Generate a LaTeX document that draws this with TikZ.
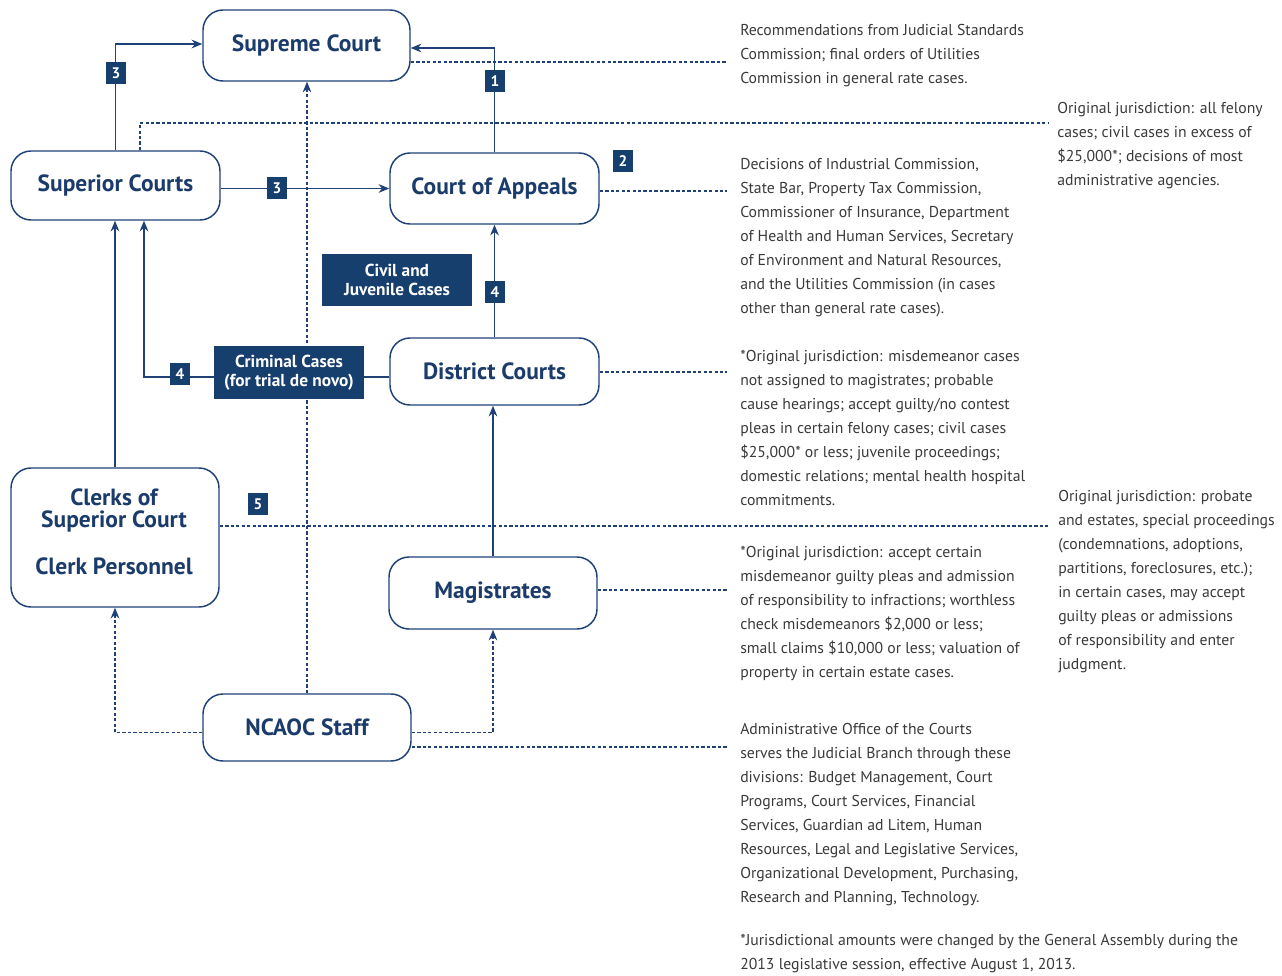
\documentclass[tikz,border=0pt]{standalone}
\usepackage{fontspec}
\setmainfont{PT Sans}
\usetikzlibrary{arrows.meta,calc}
\definecolor{navy}{HTML}{1F4178}
\definecolor{boxnavy}{HTML}{173F6D}
\definecolor{labnavy}{HTML}{1B3C6B}
\definecolor{bodygray}{HTML}{3A3A3A}
\begin{document}
\begin{tikzpicture}[x=0.75pt,y=-0.75pt,
  court/.style={draw=navy, line width=1.1pt, rounded corners=15pt, fill=white, text=labnavy,
    font=\fontsize{17.6}{18}\selectfont\bfseries, inner sep=0pt},
  clerktext/.style={text=labnavy, font=\fontsize{17.6}{16.5}\selectfont\bfseries, align=center, inner sep=0pt},
  darkbox/.style={fill=boxnavy, text=white, font=\fontsize{13}{14.25}\selectfont\bfseries, align=center, inner sep=0pt},
  badge/.style={fill=boxnavy, text=white, font=\fontsize{11.5}{12}\selectfont\bfseries,
    minimum width=15.5pt, minimum height=17pt, inner sep=0pt},
  link/.style={draw=navy, line width=1.1pt},
  arr/.style={link, -{Stealth[length=8pt,width=6.5pt]}},
  dline/.style={draw=navy, line width=0.9pt, dash pattern=on 2.5pt off 1.6pt},
  darr/.style={dline, -{Stealth[length=8pt,width=6.5pt]}},
  body/.style={text=bodygray, font=\fontsize{11.8}{18}\selectfont, align=left, anchor=base west, inner sep=0pt}
]
\useasboundingbox[fill=white] (0,0) rectangle (1282,975);

% court boxes
\node[court, minimum width=155.25pt, minimum height=53.25pt] (supreme) at (306.5,45.5) {Supreme Court};
\node[court, minimum width=156.75pt, minimum height=51.75pt] (superior) at (115.5,185.5) {Superior Courts};
\node[court, minimum width=156.75pt, minimum height=53.25pt] (coa) at (494.5,188.5) {Court of Appeals};
\node[court, minimum width=156.75pt, minimum height=50.25pt] (district) at (494.5,371.5) {District Courts};
\node[court, minimum width=156pt, minimum height=104.25pt] (clerks) at (115,537.5) {};
\node[clerktext] (clerkA) at (114,510) {Clerks of\\Superior Court};
\node[clerktext] (clerkB) at (114,566) {Clerk Personnel};
\node[court, minimum width=156pt, minimum height=54pt] (mag) at (493,593) {Magistrates};
\node[court, minimum width=156pt, minimum height=50.25pt] (ncaoc) at (307,727.5) {NCAOC Staff};

% free ends of the dashed leaders
\coordinate (t1) at (727,62);
\coordinate (t2) at (1048,123);
\coordinate (t3) at (727,191);
\coordinate (t4) at (727,372);
\coordinate (t5) at (1048,526);
\coordinate (t6) at (727,590);
\coordinate (t7) at (727,747);

% solid connectors
\draw[arr] (superior.north) |- ($(supreme.west)+(0,-1.5)$);
\draw[arr] (coa.north) |- ($(supreme.east)+(0,2.5)$);
\draw[arr] (superior.east |- coa.west) -- (coa.west);
\draw[arr] (district.north) -- (coa.south);
\draw[arr] ($(district.west)+(0,5.5)$) -| ($(superior.south)+(28.5,0)$);
\draw[arr] (clerks.north) -- (clerks.north |- superior.south);
\draw[arr] (mag.north) -- (mag.north |- district.south);
\draw[link] ($(clerks.north east)+(0,42)$) -- ($(clerks.north east)+(0,42)$ -| mag.north);

% dashed connectors
\draw[darr] (ncaoc.north) -- (ncaoc.north |- supreme.south);
\draw[darr] ($(ncaoc.west)+(0,5)$) -| (clerks.south);
\draw[darr] ($(ncaoc.east)+(0,5)$) -| (mag.south);
\draw[dline] ($(supreme.east)+(0,16.5)$) -- (t1);
\draw[dline] ($(superior.north)+(24.5,0)$) |- (t2);
\draw[dline] (coa.east |- t3) -- (t3);
\draw[dline] (district.east |- t4) -- (t4);
\draw[dline] (clerks.east |- t5) -- (t5);
\draw[dline] (mag.east |- t6) -- (t6);
\draw[dline] (ncaoc.east |- t7) -- (t7);

% dark case boxes
\node[darkbox, minimum width=112.5pt, minimum height=39pt] (civil) at (397,280) {Civil and\\Juvenile Cases};
\node[darkbox, minimum width=112.5pt, minimum height=39.75pt] (criminal) at (289,372.5) {Criminal Cases\\(for trial de novo)};

% badges
\node[badge] (b1) at (495,81) {1};
\node[badge] (b2) at (623,161) {2};
\node[badge] (b3a) at (116,73) {3};
\node[badge] (b3b) at (277,188) {3};
\node[badge] (b4a) at (495,292) {4};
\node[badge] (b4b) at (180,374) {4};
\node[badge] (b5) at (258,504) {5};

% texts (base anchor = baseline of the last line)
\node[body] (txt1) at (740,83) {Recommendations from Judicial Standards\\Commission; final orders of Utilities\\Commission in general rate cases.};
\node[body] (txt2) at (1057,185) {Original jurisdiction: all felony\\cases; civil cases in excess of\\\$25,000*; decisions of most\\administrative agencies.};
\node[body] (txt3) at (740,313) {Decisions of Industrial Commission,\\State Bar, Property Tax Commission,\\Commissioner of Insurance, Department\\of Health and Human Services, Secretary\\of Environment and Natural Resources,\\and the Utilities Commission (in cases\\other than general rate cases).};
\node[body] (txt4) at (740,505) {*Original jurisdiction: misdemeanor cases\\not assigned to magistrates; probable\\cause hearings; accept guilty/no contest\\pleas in certain felony cases; civil cases\\\$25,000* or less; juvenile proceedings;\\domestic relations; mental health hospital\\commitments.};
\node[body] (txt5) at (1058,669) {Original jurisdiction: probate\\and estates, special proceedings\\(condemnations, adoptions,\\partitions, foreclosures, etc.);\\in certain cases, may accept\\guilty pleas or admissions\\of responsibility and enter\\judgment.};
\node[body] (txt6) at (740,677) {*Original jurisdiction: accept certain\\misdemeanor guilty pleas and admission\\of responsibility to infractions; worthless\\check misdemeanors \$2,000 or less;\\small claims \$10,000 or less; valuation of\\property in certain estate cases.};
\node[body] (txt7) at (740,902) {Administrative Office of the Courts\\serves the Judicial Branch through these\\divisions: Budget Management, Court\\Programs, Court Services, Financial\\Services, Guardian ad Litem, Human\\Resources, Legal and Legislative Services,\\Organizational Development, Purchasing,\\Research and Planning, Technology.};
\node[body] (txt8) at (740,969) {*Jurisdictional amounts were changed by the General Assembly during the\\2013 legislative session, effective August 1, 2013.};
\end{tikzpicture}
\end{document}
